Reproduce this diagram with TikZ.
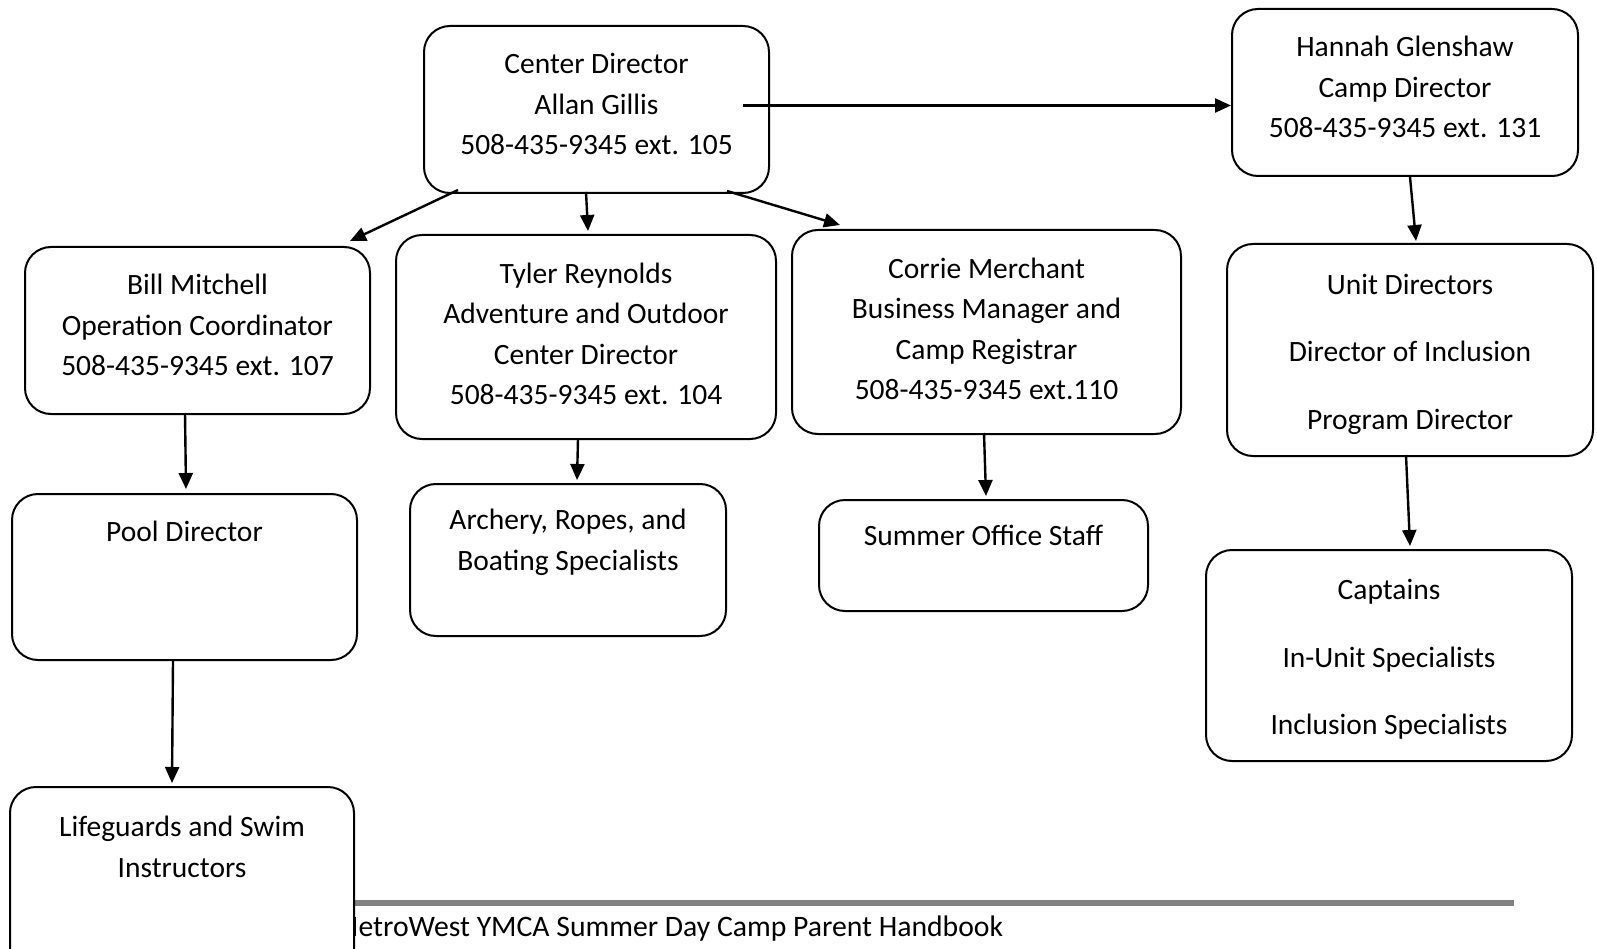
\documentclass[tikz,border=0pt]{standalone}
\usepackage{fontspec}
\setmainfont{Carlito}
\usetikzlibrary{positioning,calc,arrows.meta}

\begin{document}
\begin{tikzpicture}[x=1pt,y=-1pt,>={Triangle[length=16pt,width=14pt]},
                    box/.style={draw,line width=2pt,rounded corners=26pt,fill=white,
                                align=center,inner sep=0pt,
                                font=\fontsize{29.5}{40.5}\selectfont},
                    link/.style={->,line width=2.4pt}]
            \useasboundingbox (0,0) rectangle (1597,949);
            \clip (0,0) rectangle (1597,949);
            %Footer
                \draw[line width=6pt,gray] (300,903) -- (1514,903);
                \node[anchor=base west,inner sep=0pt,font=\fontsize{29.7}{35}\selectfont] (foot) at (333,936)
                    {MetroWest YMCA Summer Day Camp Parent Handbook};
            %Nodes
                \node[box,minimum width=345,minimum height=167] (center) at (596.5,109.5)
                    {Center Director\\Allan Gillis\\508-435-9345 ext. 105\\[-30pt]\mbox{}};
                \node[box,minimum width=346,minimum height=167] (hannah) at (1405,92.5)
                    {Hannah Glenshaw\\Camp Director\\508-435-9345 ext. 131\\[-30pt]\mbox{}};
                \node[box,minimum width=345,minimum height=167] (bill) at (197.5,330.5)
                    {Bill Mitchell\\Operation Coordinator\\508-435-9345 ext. 107\\[-30pt]\mbox{}};
                \node[box,minimum width=380,minimum height=204] (tyler) at (586,337)
                    {Tyler Reynolds\\Adventure and Outdoor\\Center Director\\508-435-9345 ext. 104\\[-34pt]\mbox{}};
                \node[box,minimum width=389,minimum height=204] (corrie) at (986.5,332)
                    {Corrie Merchant\\Business Manager and\\Camp Registrar\\508-435-9345 ext.110\\[-34pt]\mbox{}};
                \node[box,minimum width=366,minimum height=212] (unit) at (1410,350)
                    {\mbox{}\\[-12pt]Unit Directors\\[27pt]Director of Inclusion\\[27pt]Program Director};
                \node[box,minimum width=345,minimum height=166] (pool) at (184.5,577)
                    {Pool Director\\ \\[10pt]\mbox{}};
                \node[box,minimum width=316,minimum height=152] (archery) at (568,560)
                    {Archery, Ropes, and\\Boating Specialists\\ };
                \node[box,minimum width=329,minimum height=111] (summer) at (983.5,555.5)
                    {Summer Office Staff\\ };
                \node[box,minimum width=366,minimum height=211] (captains) at (1389,655.5)
                    {\mbox{}\\[-12pt]Captains\\[27pt]In-Unit Specialists\\[27pt]Inclusion Specialists};
                \node[box,minimum width=344,minimum height=200] (life) at (182,887)
                    {Lifeguards and Swim\\Instructors\\ \\ };
                \coordinate (cstart) at ($(center.east)+(-27,-4)$);

            %Lines
                \draw[link] (cstart) -- (cstart -| hannah.west);
                \draw[link] ($(center.south)+(-138.5,-4)$) -- ($(bill.north east)+(-21,-5)$);
                \draw[link] ($(center.south)+(-10.5,-2)$) -- ($(tyler.north)+(2,-3)$);
                \draw[link] ($(center.south)+(130.5,-3)$) -- ($(corrie.north west)+(49,-4)$);
                \draw[link] ($(hannah.south)+(5,0)$) -- ($(unit.north)+(6,-2)$);
                \draw[link] ($(bill.south)+(-12.5,-2)$) -- ($(pool.north)+(1.5,-4)$);
                \draw[link] ($(tyler.south)+(-8,-1)$) -- ($(archery.north)+(9,-3)$);
                \draw[link] ($(corrie.south)+(-2.5,-2)$) -- ($(summer.north)+(2.5,-3)$);
                \draw[link] ($(unit.south)+(-4,-2)$) -- ($(captains.north)+(21,-3)$);
                \draw[link] ($(pool.south)+(-11.5,0)$) -- ($(life.north)+(-10,-3)$);
\end{tikzpicture}
\end{document}
